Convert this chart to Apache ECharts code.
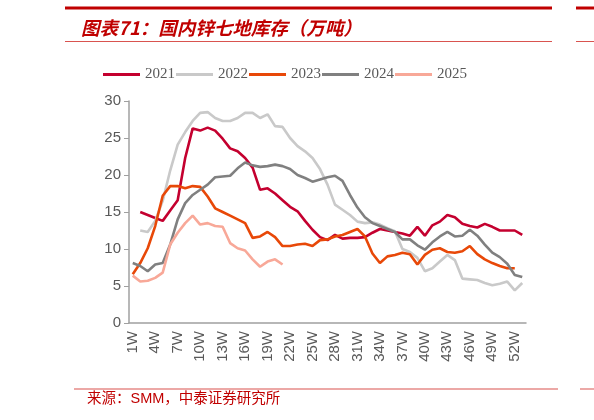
<!DOCTYPE html>
<html>
<head>
<meta charset="utf-8">
<script src="https://cdn.jsdelivr.net/npm/echarts@6/dist/echarts.min.js"></script>
<style>
  html, body { margin: 0; padding: 0; background: #fff; }
  #chart { width: 594px; height: 420px; }
</style>
</head>
<body>
<div id="chart"></div>
<script>
// 周次标签 1W..53W
const weeks = [];
for (let i = 1; i <= 53; i++) weeks.push(i + 'W');

const years = ['2021', '2022', '2023', '2024', '2025'];

// 国内锌七地库存（万吨），按周
const s2021 = [null, 15.0, 14.6, 14.2, 13.8, 15.2, 16.6, 22.3, 26.3, 26.0, 26.4, 26.0, 24.9, 23.6, 23.2, 22.3, 21.0, 18.0, 18.2, 17.5,
  16.6, 15.7, 15.1, 13.8, 12.6, 11.6, 11.2, 11.9, 11.4, 11.5, 11.5, 11.6, 12.2, 12.7, 12.5, 12.3, 12.1, 11.8, 13.0, 11.8,
  13.2, 13.7, 14.6, 14.3, 13.4, 13.1, 12.9, 13.4, 13.0, 12.5, 12.5, 12.5, 11.9];
const s2022 = [null, 12.5, 12.3, 13.8, 16.5, 20.6, 24.1, 25.8, 27.3, 28.4, 28.5, 27.7, 27.3, 27.3, 27.7, 28.4, 28.4, 27.7, 28.2, 26.6,
  26.5, 25.0, 23.9, 23.2, 22.3, 20.8, 18.7, 16.0, 15.3, 14.6, 13.7, 13.5, 13.6, 13.3, 12.8, 12.4, 10.0, 9.6, 8.8, 7.0,
  7.4, 8.3, 9.2, 8.5, 6.0, 5.9, 5.8, 5.4, 5.1, 5.3, 5.6, 4.4, 5.4];
const s2023 = [6.6, 8.1, 10.1, 13.1, 17.2, 18.5, 18.5, 18.2, 18.5, 18.4, 17.1, 15.5, 15.0, 14.5, 14.0, 13.5, 11.5, 11.7, 12.3, 11.6,
  10.4, 10.4, 10.6, 10.7, 10.4, 11.2, 11.3, 11.7, 11.9, 12.3, 12.7, 11.7, 9.4, 8.1, 9.0, 9.2, 9.5, 9.3, 7.9, 9.2,
  9.9, 10.1, 9.6, 9.5, 9.7, 10.4, 9.3, 8.6, 8.1, 7.7, 7.4, 7.4, null];
const s2024 = [8.1, 7.7, 7.0, 7.9, 8.1, 10.6, 14.0, 16.2, 17.3, 18.0, 18.7, 19.7, 19.8, 19.9, 20.9, 21.7, 21.3, 21.1, 21.2, 21.4,
  21.2, 20.8, 20.0, 19.6, 19.1, 19.4, 19.7, 19.9, 19.2, 17.3, 15.6, 14.3, 13.5, 13.1, 12.7, 12.3, 11.3, 11.3, 10.5, 9.9,
  10.9, 11.7, 12.3, 11.7, 11.8, 12.6, 11.8, 10.6, 9.5, 8.9, 8.0, 6.5, 6.2];
const s2025 = [6.4, 5.6, 5.7, 6.1, 6.8, 10.6, 12.2, 13.5, 14.5, 13.3, 13.5, 13.1, 13.0, 10.8, 10.1, 9.8, 8.6, 7.6, 8.3, 8.6, 7.9];

const seriesData = [s2021, s2022, s2023, s2024, s2025];
const colors = ['#c4002f', '#c9c9c9', '#e84808', '#808080', '#f8a898'];

const chart = echarts.init(document.getElementById('chart'));

const red = '#c00000';
const axisGray = '#a0a0a0';
const labelGray = '#595959';

const option = {
    animation: false,
    title: {
        text: '图表71：国内锌七地库存（万吨）',
        left: 76,
        top: 14,
        textStyle: {
            color: red,
            fontSize: 18.5,
            fontStyle: 'italic',
            fontWeight: 'bold',
            fontFamily: '"Noto Sans CJK SC", sans-serif'
        }
    },
    legend: {
        data: years,
        left: 98,
        top: 62,
        icon: 'rect',
        itemWidth: 37,
        itemHeight: 3,
        itemGap: 1,
        textStyle: {
            color: labelGray,
            fontSize: 15,
            fontFamily: '"Liberation Serif", serif'
        }
    },
    grid: {
        left: 129,
        right: 68,
        top: 101,
        bottom: 97
    },
    xAxis: {
        type: 'category',
        data: weeks,
        boundaryGap: true,
        axisLine: { lineStyle: { color: axisGray, width: 1.5 } },
        axisTick: { interval: 0, length: 5, lineStyle: { color: axisGray } },
        axisLabel: {
            interval: 2,
            rotate: 90,
            margin: 8,
            color: labelGray,
            fontSize: 15,
            fontFamily: '"Liberation Sans", Arial, sans-serif'
        },
        splitLine: { show: false }
    },
    yAxis: {
        type: 'value',
        min: 0,
        max: 30,
        interval: 5,
        axisLine: { show: true, lineStyle: { color: axisGray, width: 1.5 } },
        axisTick: { show: true, length: 5, lineStyle: { color: axisGray } },
        axisLabel: {
            margin: 8,
            color: labelGray,
            fontSize: 15,
            fontFamily: '"Liberation Sans", Arial, sans-serif'
        },
        splitLine: { show: false }
    },
    series: years.map((y, i) => ({
        name: y,
        type: 'line',
        data: seriesData[i],
        symbol: 'none',
        connectNulls: false,
        itemStyle: { color: colors[i] },
        lineStyle: { color: colors[i], width: 2.6 }
    })),
    graphic: [
        // 标题上下的红线
        { type: 'rect', shape: { x: 65, y: 6.5, width: 487, height: 3 }, style: { fill: red } },
        { type: 'rect', shape: { x: 576, y: 6.5, width: 18, height: 3 }, style: { fill: red } },
        { type: 'rect', shape: { x: 65, y: 41, width: 487, height: 1 }, style: { fill: '#d9534f' } },
        { type: 'rect', shape: { x: 576, y: 41, width: 18, height: 1 }, style: { fill: '#d9534f' } },
        // 来源上方的红线
        { type: 'rect', shape: { x: 74, y: 388.5, width: 484, height: 1 }, style: { fill: '#d9534f' } },
        { type: 'rect', shape: { x: 580, y: 388.5, width: 14, height: 1 }, style: { fill: '#d9534f' } },
        {
            type: 'text',
            left: 87,
            top: 392,
            style: {
                text: '来源：SMM，中泰证券研究所',
                fill: red,
                fontSize: 14.5,
                fontFamily: '"Liberation Sans", "Noto Sans CJK SC", sans-serif'
            }
        }
    ]
};

chart.setOption(option);

window.addEventListener('resize', () => {
    chart.resize();
});
</script>
</body>
</html>
